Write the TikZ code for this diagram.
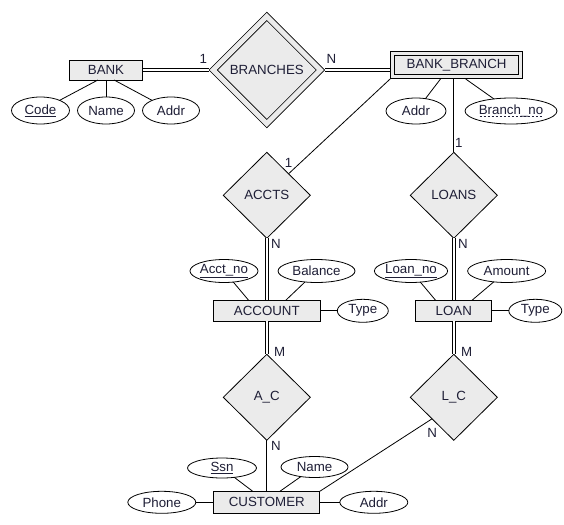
\documentclass[tikz,border=0pt]{standalone}
\usepackage{fontspec}
\setmainfont{Liberation Sans}
\usepackage{tikz}
\usetikzlibrary{positioning,shapes.geometric}
\definecolor{ink}{HTML}{1E1E36}
\definecolor{entfill}{HTML}{EBEBEB}
\newcommand\dashkey[1]{\setbox0\hbox{#1}\leavevmode
    \rlap{\raisebox{-2.5pt}{\hbox to \wd0{\xleaders\hbox to 4pt{\hss\rule{2.4pt}{0.6pt}\hss}\hfill}}}\box0}
\tikzset{
    entity/.style={draw,fill=entfill,line width=0.8pt,
      minimum height=21pt,inner sep=2pt,outer sep=0pt,text=ink},
    weakentity/.style={entity,double=entfill,double distance=3.4pt,
      minimum height=23pt,outer sep=2.5pt},
    relation/.style={draw,diamond,aspect=1,fill=entfill,line width=0.8pt,
      minimum width=87pt,minimum height=86pt,inner sep=0pt,outer sep=0pt,text=ink},
    identrel/.style={relation,double=entfill,double distance=5pt,
      minimum width=110pt,minimum height=110pt,outer sep=3.3pt},
    attrib/.style={draw,ellipse,fill=white,line width=0.8pt,
      minimum height=23pt,inner sep=0pt,outer sep=0pt,text=ink},
    link/.style={draw,line width=0.8pt},
    total/.style={link,double,double distance=2.4pt},
    card/.style={text=ink,inner sep=1pt}
}
\begin{document}
\begin{tikzpicture}[x=1pt,y=-1pt,font=\fontsize{13.3}{16}\selectfont]
    \useasboundingbox (0,0) rectangle (564,524);
    \node[entity,minimum width=73pt,minimum height=20pt] (bank) at (106,70) {BANK};
    \node[identrel,right=66pt of bank] (branches) {BRANCHES};
    \node[weakentity,minimum width=128pt,right=65pt of branches,yshift=5pt] (bankbranch) {BANK\_BRANCH};
    \node[attrib,minimum width=57pt,minimum height=27pt,below=17pt of bank] (bname) {Name};
    \node[attrib,minimum width=58pt,minimum height=27pt,left=8pt of bname] (bcode) {\underline{Code}};
    \node[attrib,minimum width=57pt,minimum height=27pt,right=8pt of bname] (baddr) {Addr};
    \node[attrib,minimum width=60pt,minimum height=26pt] (bbaddr) at (416,111) {Addr};
    \node[attrib,minimum width=92pt,minimum height=26pt,right=19pt of bbaddr] (bbno) {\dashkey{Branch\_no}};
    \node[relation,below=24pt of branches] (accts) {ACCTS};
    \node[relation,right=100pt of accts] (loans) {LOANS};
    \node[entity,minimum width=107pt,below=62pt of accts] (account) {ACCOUNT};
    \node[entity,minimum width=76pt,below=62pt of loans] (loan) {LOAN};
    \node[attrib,minimum width=68pt] (acctno) at (224,271) {\underline{Acct\_no}};
    \node[attrib,minimum width=77pt,right=20pt of acctno] (balance) {Balance};
    \node[attrib,minimum width=51pt,right=17pt of account] (type1) {Type};
    \node[attrib,minimum width=68pt] (loanno) at (411,271) {\underline{Loan\_no}};
    \node[attrib,minimum width=78pt,right=20pt of loanno] (amount) {Amount};
    \node[attrib,minimum width=53pt,right=17pt of loan] (type2) {Type};
    \node[relation,below=33pt of account] (ac) {A\_C};
    \node[relation,below=33pt of loan] (lc) {L\_C};
    \node[entity,minimum width=106pt,minimum height=22pt,below=51pt of ac] (customer) {CUSTOMER};
    \node[attrib,minimum width=69pt,minimum height=20pt] (ssn) at (222,468) {\underline{Ssn}};
    \node[attrib,minimum width=67pt,minimum height=21pt] (cname) at (314.5,467) {Name};
    \node[attrib,minimum width=68pt,minimum height=22pt,left=18pt of customer] (phone) {Phone};
    \node[attrib,minimum width=68pt,minimum height=22pt,right=20pt of customer] (caddr) {Addr};
    \foreach \a/\b in {bank.231/bcode,bank/bname,bank.309/baddr,bankbranch.221/bbaddr,
        bankbranch.303/bbno,account.150/acctno,account.29/balance,account/type1,
        loan.150/loanno,loan.30/amount,loan/type2,customer.142/ssn,customer.40/cname,
        customer/phone,customer/caddr}
        \draw[link] (\a) -- (\b);
    \draw[total] (bank.east) -- (bank.east -| branches.west)
        node[card,pos=1,above left,yshift=5pt] {1};
    \draw[total] (branches.east) -- (branches.east -| bankbranch.west)
        node[card,pos=0,above right,yshift=5pt] {N};
    \draw[link] (bankbranch.south -| loans.north) -- (loans.north)
        node[card,pos=1,above right,yshift=3pt] {1};
    \draw[link] (bankbranch.south west) -- (accts.north east)
        node[card,pos=1,above=5pt] {1};
    \draw[total] (accts.south) -- (account.north)
        node[card,pos=0,below right,xshift=3pt] {N};
    \draw[total] (loans.south) -- (loan.north)
        node[card,pos=0,below right,xshift=3pt] {N};
    \draw[total] (account.south) -- (ac.north)
        node[card,pos=1,right=6pt,yshift=2pt] {M};
    \draw[total] (loan.south) -- (lc.north)
        node[card,pos=1,right=6pt,yshift=2pt] {M};
    \draw[link] (ac.south) -- (customer.north)
        node[card,pos=0,below right,xshift=3pt] {N};
    \draw[link] (lc.south west) -- (customer.north east)
        node[card,pos=0,below=8pt] {N};
\end{tikzpicture}
\end{document}
